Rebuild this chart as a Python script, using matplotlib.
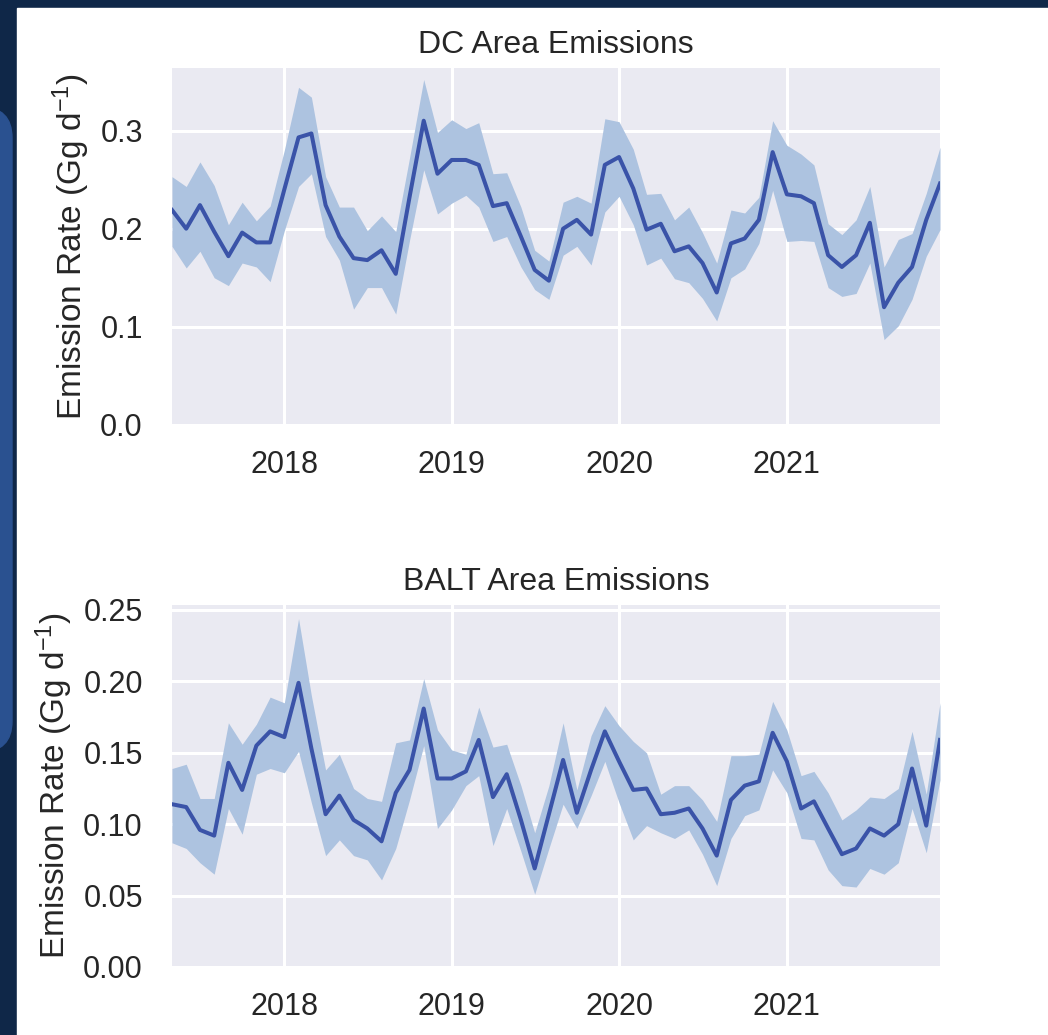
import numpy as np
import pandas as pd
import matplotlib
matplotlib.use('Agg')
import matplotlib.pyplot as plt
import matplotlib.dates as mdates
from matplotlib.patches import Rectangle, FancyBboxPatch

# monthly estimates, May 2017 - Dec 2021
months = pd.date_range('2017-05-01', '2021-12-01', freq='MS')

dc_mean = [0.219, 0.200, 0.224, 0.197, 0.172, 0.196, 0.186, 0.186,
           0.240, 0.293, 0.297, 0.224, 0.192, 0.170, 0.168, 0.178, 0.154, 0.232, 0.310, 0.256,
           0.270, 0.270, 0.265, 0.223, 0.226, 0.192, 0.158, 0.147, 0.200, 0.209, 0.194, 0.265,
           0.273, 0.241, 0.199, 0.205, 0.177, 0.182, 0.165, 0.135, 0.185, 0.190, 0.209, 0.278,
           0.235, 0.233, 0.226, 0.173, 0.161, 0.173, 0.206, 0.120, 0.145, 0.161, 0.209, 0.246]
dc_upper = [0.253, 0.243, 0.268, 0.244, 0.204, 0.227, 0.208, 0.223,
            0.280, 0.344, 0.334, 0.253, 0.222, 0.222, 0.198, 0.213, 0.197, 0.272, 0.352, 0.298,
            0.311, 0.302, 0.308, 0.256, 0.257, 0.222, 0.178, 0.167, 0.227, 0.233, 0.226, 0.312,
            0.309, 0.281, 0.235, 0.236, 0.209, 0.222, 0.196, 0.165, 0.219, 0.216, 0.232, 0.310,
            0.285, 0.276, 0.265, 0.205, 0.194, 0.209, 0.243, 0.161, 0.189, 0.195, 0.236, 0.283]
dc_lower = [0.182, 0.160, 0.177, 0.150, 0.142, 0.165, 0.161, 0.146,
            0.198, 0.243, 0.256, 0.192, 0.168, 0.118, 0.140, 0.140, 0.113, 0.188, 0.260, 0.215,
            0.226, 0.234, 0.222, 0.187, 0.192, 0.161, 0.138, 0.128, 0.173, 0.182, 0.163, 0.217,
            0.233, 0.204, 0.163, 0.170, 0.149, 0.145, 0.129, 0.106, 0.150, 0.159, 0.185, 0.239,
            0.187, 0.188, 0.187, 0.140, 0.131, 0.134, 0.165, 0.087, 0.101, 0.128, 0.172, 0.199]

balt_mean = [0.114, 0.112, 0.096, 0.092, 0.143, 0.124, 0.155, 0.165,
             0.161, 0.199, 0.153, 0.107, 0.120, 0.103, 0.097, 0.088, 0.122, 0.138, 0.181, 0.132,
             0.132, 0.137, 0.159, 0.119, 0.135, 0.103, 0.069, 0.107, 0.145, 0.108, 0.138, 0.165,
             0.144, 0.124, 0.125, 0.107, 0.108, 0.111, 0.097, 0.078, 0.117, 0.127, 0.130, 0.164,
             0.144, 0.111, 0.116, 0.097, 0.079, 0.083, 0.097, 0.092, 0.100, 0.139, 0.099, 0.159]
balt_upper = [0.139, 0.142, 0.118, 0.118, 0.171, 0.156, 0.170, 0.189,
              0.185, 0.244, 0.190, 0.138, 0.149, 0.125, 0.118, 0.116, 0.157, 0.159, 0.202, 0.166,
              0.152, 0.149, 0.182, 0.154, 0.156, 0.127, 0.094, 0.127, 0.171, 0.124, 0.162, 0.183,
              0.169, 0.158, 0.150, 0.121, 0.127, 0.127, 0.117, 0.102, 0.148, 0.148, 0.149, 0.186,
              0.166, 0.134, 0.137, 0.122, 0.103, 0.110, 0.119, 0.118, 0.125, 0.165, 0.121, 0.185]
balt_lower = [0.087, 0.083, 0.073, 0.065, 0.111, 0.093, 0.135, 0.139,
              0.136, 0.151, 0.115, 0.078, 0.089, 0.078, 0.075, 0.061, 0.083, 0.117, 0.155, 0.097,
              0.110, 0.127, 0.134, 0.085, 0.111, 0.081, 0.051, 0.083, 0.114, 0.097, 0.120, 0.144,
              0.115, 0.089, 0.099, 0.094, 0.090, 0.096, 0.079, 0.057, 0.090, 0.106, 0.110, 0.138,
              0.122, 0.090, 0.089, 0.068, 0.057, 0.056, 0.069, 0.065, 0.073, 0.111, 0.080, 0.131]

titles = ['DC Area Emissions', 'BALT Area Emissions']
ylabel = r'Emission Rate (Gg d$^{-1}$)'

plt.rcParams['font.family'] = ['Liberation Sans', 'DejaVu Sans']
plt.rcParams['mathtext.fontset'] = 'custom'
plt.rcParams['mathtext.rm'] = 'Liberation Sans'
plt.rcParams['mathtext.it'] = 'Liberation Sans'

W, H = 1048, 1035
fig = plt.figure(figsize=(W / 100, H / 100), dpi=100)
fig.patch.set_facecolor('#0f2748')

# slide backdrop: white panel + lighter blue tab on the left
fig.add_artist(FancyBboxPatch((-40 / W, 1 - 752 / H), 52 / W, 645 / H,
                              boxstyle='round,pad=0,rounding_size=0.03',
                              transform=fig.transFigure, color='#2a5190', zorder=-2))
fig.add_artist(Rectangle((17 / W, 0), 1, 1 - 8 / H, transform=fig.transFigure,
                         color='white', zorder=-1))

line_c = '#3a53a8'
band_c = '#adc3e0'
text_c = '#262626'

panels = [
    ([172, 68, 940, 425], dc_mean, dc_lower, dc_upper, 0.3637, [0.0, 0.1, 0.2, 0.3], '{:.1f}'),
    ([172, 605, 940, 967], balt_mean, balt_lower, balt_upper, 0.2535,
     [0.0, 0.05, 0.10, 0.15, 0.20, 0.25], '{:.2f}'),
]

for i, (box, mean, lo, hi, ytop, yt, fmt) in enumerate(panels):
    x0, y0, x1, y1 = box
    ax = fig.add_axes([x0 / W, 1 - y1 / H, (x1 - x0) / W, (y1 - y0) / H])
    ax.set_facecolor('#eaeaf2')
    for s in ax.spines.values():
        s.set_visible(False)
    ax.grid(True, color='white', linewidth=2.2)
    ax.set_axisbelow(True)

    ax.fill_between(months, lo, hi, color=band_c, linewidth=0)
    ax.plot(months, mean, color=line_c, linewidth=2.9)

    ax.set_xlim(months[0], months[-1])
    ax.set_ylim(0, ytop)
    ax.set_yticks(yt)
    ax.set_yticklabels([fmt.format(v) for v in yt])
    ax.xaxis.set_major_locator(mdates.YearLocator())
    ax.xaxis.set_major_formatter(mdates.DateFormatter('%Y'))
    ax.tick_params(axis='both', length=0, labelsize=22, colors=text_c)
    ax.tick_params(axis='y', pad=21)
    ax.tick_params(axis='x', pad=18)

    ax.set_title(titles[i], fontsize=23, color=text_c, pad=11)
    ax.set_ylabel(ylabel, fontsize=24, color=text_c, labelpad=6)

fig.savefig('out.png', dpi=100, facecolor=fig.get_facecolor())
